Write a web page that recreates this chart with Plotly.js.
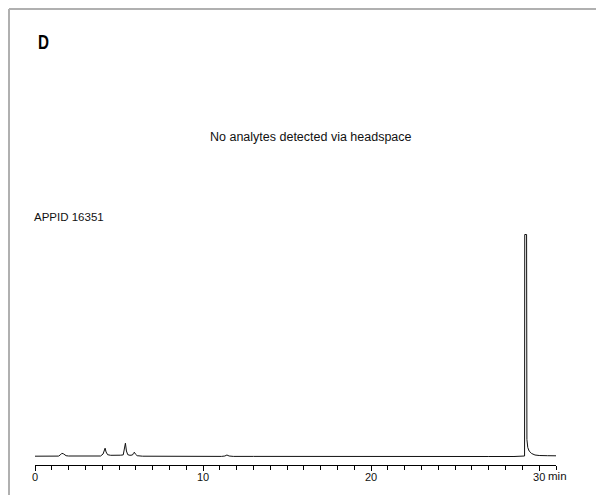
<!DOCTYPE html>
<html>
<head>
<meta charset="utf-8">
<script src="https://cdn.plot.ly/plotly-3.0.1.min.js"></script>
<style>
html,body{margin:0;padding:0;background:#fff;}
#chart{width:596px;height:495px;}
</style>
</head>
<body>
<div id="chart"></div>
<script>
// Retention time (min) and detector signal (arbitrary units)
var timeMin = [0, 0.5, 1.0, 1.4, 1.5, 1.6, 1.7, 1.85, 2.0, 2.5, 2.6, 2.7, 3.0, 3.3, 3.5, 3.9,
  4.05, 4.12, 4.17, 4.23, 4.32, 4.5, 4.8, 5.1, 5.25, 5.32, 5.38, 5.44, 5.52, 5.65, 5.8, 5.86, 5.91, 5.97, 6.08, 6.4,
  7, 8, 9, 10, 11.1, 11.3, 11.42, 11.55, 11.8, 13, 15, 17, 19, 21, 23, 25, 27, 28.5, 29.1,
  29.13, 29.14, 29.25, 29.27, 29.32, 29.4, 29.55, 29.75, 30.0, 30.5, 31.0];
var signal = [0.3, 0.2, 0.3, 0.4, 1.5, 3.2, 2.6, 0.8, 0.5, 0.4, 0.8, 0.4, 0.3, 0.6, 0.3, 0.5,
  2.5, 7.5, 8.3, 4.5, 1.8, 1.2, 1.0, 1.3, 1.6, 6.5, 13.3, 5.5, 1.8, 1.2, 1.5, 3.2, 4.3, 2.5, 0.8, 0.3,
  0.2, 0.1, 0.1, 0.1, 0.1, 0.5, 1.5, 0.5, 0.1, 0.1, 0, -0.2, -0.3, -0.3, -0.2, -0.1, 0, 0, 0,
  0.5, 222, 222, 17, 9, 5.5, 3, 1.5, 1.0, 0.8, 0.7];
var majorTicks = [0, 10, 20, 30];
var majorLabels = ["0", "10", "20", "30"];
var panelLabel = "D";
var noteText = "No analytes detected via headspace";
var sampleLabel = "APPID 16351";
var unitLabel = "min";

var W = 596, H = 495, ML = 35, MR = 40, MT = 225, MB = 30;
var pw = W - ML - MR, ph = H - MT - MB;
function px(x){ return (x - ML) / pw; }
function py(y){ return (H - MB - y) / ph; }

var trace = {
  x: timeMin, y: signal, type: 'scatter', mode: 'lines',
  line: {color: '#111', width: 1}, hoverinfo: 'skip', cliponaxis: false
};

var fontBase = 'Liberation Sans, Arial, Helvetica, sans-serif';
var layout = {
  width: W, height: H,
  margin: {l: ML, r: MR, t: MT, b: MB, pad: 0},
  paper_bgcolor: '#fff', plot_bgcolor: '#fff',
  showlegend: false,
  font: {family: fontBase, color: '#111', size: 11},
  xaxis: {
    range: [0, 31], showgrid: false, zeroline: false,
    showline: true, linecolor: '#000', linewidth: 1,
    ticks: 'outside', ticklen: 5, tickwidth: 1, tickcolor: '#000',
    ticklabelstandoff: -3,
    tickmode: 'array', tickvals: majorTicks, ticktext: majorLabels,
    tickfont: {family: fontBase, size: 11, color: '#111'},
    minor: {tickmode: 'linear', tick0: 0, dtick: 1, ticks: 'outside', ticklen: 4, tickwidth: 1, tickcolor: '#000', showgrid: false},
    fixedrange: true
  },
  yaxis: {range: [-8.5, 231.5], visible: false, fixedrange: true},
  shapes: [
    {type: 'line', xref: 'paper', yref: 'paper', x0: px(9), x1: px(600), y0: py(9), y1: py(9), line: {color: '#b0b0b0', width: 2}},
    {type: 'line', xref: 'paper', yref: 'paper', x0: px(9), x1: px(9), y0: py(9), y1: py(500), line: {color: '#b0b0b0', width: 2}}
  ],
  annotations: [
    {text: '<b>' + panelLabel + '</b>', xref: 'paper', yref: 'paper', x: px(34), y: py(41), xanchor: 'left', yanchor: 'middle', showarrow: false,
     font: {family: fontBase, size: 21, color: '#000'}},
    {text: noteText, xref: 'paper', yref: 'paper', x: px(311), y: py(137), xanchor: 'center', yanchor: 'middle', showarrow: false,
     font: {family: fontBase, size: 12.5, color: '#111'}},
    {text: sampleLabel, xref: 'paper', yref: 'paper', x: px(32), y: py(217), xanchor: 'left', yanchor: 'middle', showarrow: false,
     font: {family: fontBase, size: 11.5, color: '#111'}},
    {text: unitLabel, xref: 'paper', yref: 'paper', x: px(546), y: py(476), xanchor: 'left', yanchor: 'middle', showarrow: false,
     font: {family: fontBase, size: 11.5, color: '#111'}}
  ]
};

Plotly.newPlot('chart', [trace], layout, {displayModeBar: false, staticPlot: true}).then(function(gd){
  // Condense the bold panel letter, as in the reference (condensed bold face)
  var t = gd.querySelector('g.annotation[data-index="0"] text');
  if (t) {
    t.setAttribute('textLength', '11');
    t.setAttribute('lengthAdjust', 'spacingAndGlyphs');
  }
});
</script>
</body>
</html>
